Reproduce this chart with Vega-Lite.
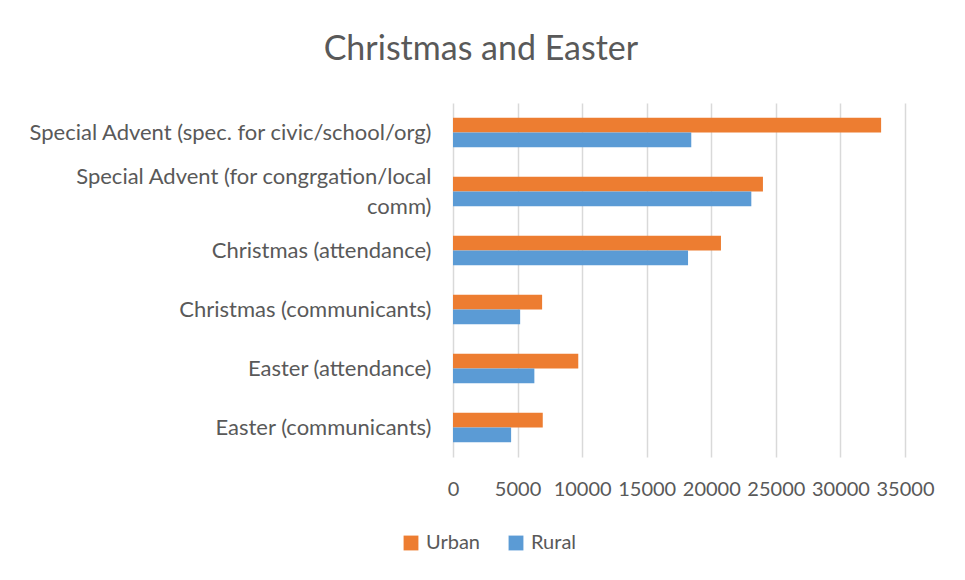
{
  "$schema": "https://vega.github.io/schema/vega-lite/v6.json",
  "width": 452,
  "height": 354,
  "padding": {"left": 27, "top": 33, "right": 40, "bottom": 10},
  "background": "white",
  "title": {
    "text": "Christmas and Easter",
    "frame": "bounds",
    "anchor": "middle",
    "font": "Lato",
    "fontSize": 34,
    "fontWeight": "normal",
    "color": "#595959",
    "offset": 36
  },
  "data": {
    "values": [
      {"category": "Special Advent (spec. for civic/school/org)", "series": "Urban", "value": 33150},
      {"category": "Special Advent (spec. for civic/school/org)", "series": "Rural", "value": 18450},
      {"category": "Special Advent (for congrgation/local comm)", "series": "Urban", "value": 24000},
      {"category": "Special Advent (for congrgation/local comm)", "series": "Rural", "value": 23100},
      {"category": "Christmas (attendance)", "series": "Urban", "value": 20750},
      {"category": "Christmas (attendance)", "series": "Rural", "value": 18200},
      {"category": "Christmas (communicants)", "series": "Urban", "value": 6900},
      {"category": "Christmas (communicants)", "series": "Rural", "value": 5200},
      {"category": "Easter (attendance)", "series": "Urban", "value": 9700},
      {"category": "Easter (attendance)", "series": "Rural", "value": 6300},
      {"category": "Easter (communicants)", "series": "Urban", "value": 6950},
      {"category": "Easter (communicants)", "series": "Rural", "value": 4500}
    ]
  },
  "mark": {"type": "bar"},
  "encoding": {
    "y": {
      "field": "category",
      "type": "nominal",
      "sort": null,
      "scale": {"paddingInner": 0.5, "paddingOuter": 0.25},
      "axis": {
        "title": null,
        "ticks": false,
        "domain": false,
        "labelFont": "Lato",
        "labelFontSize": 22,
        "labelColor": "#595959",
        "labelPadding": 22,
        "labelLimit": 500,
        "labelLineHeight": 30,
        "labelOffset": {
          "condition": {"test": "datum.value == 'Special Advent (for congrgation/local comm)'", "value": -15},
          "value": 0
        },
        "labelExpr": "datum.value == 'Special Advent (for congrgation/local comm)' ? ['Special Advent (for congrgation/local', 'comm)'] : datum.value"
      }
    },
    "yOffset": {"field": "series", "type": "nominal", "sort": ["Urban", "Rural"]},
    "x": {
      "field": "value",
      "type": "quantitative",
      "scale": {"domain": [0, 35000]},
      "axis": {
        "title": null,
        "values": [0, 5000, 10000, 15000, 20000, 25000, 30000, 35000],
        "format": "d",
        "ticks": false,
        "domain": false,
        "labelOverlap": false,
        "labelFlush": false,
        "labelFont": "Lato",
        "labelFontSize": 20,
        "labelColor": "#595959",
        "labelPadding": 22,
        "gridColor": "#d9d9d9",
        "gridWidth": 1.5
      }
    },
    "color": {
      "field": "series",
      "type": "nominal",
      "sort": ["Urban", "Rural"],
      "scale": {"domain": ["Urban", "Rural"], "range": ["#ED7D31", "#5B9BD5"]},
      "legend": {
        "title": null,
        "orient": "none",
        "direction": "horizontal",
        "legendX": -52,
        "legendY": 430,
        "symbolType": "square",
        "symbolSize": 220,
        "symbolStrokeWidth": 0,
        "labelFont": "Lato",
        "labelFontSize": 20,
        "labelColor": "#595959",
        "columnPadding": 26,
        "labelOffset": 5
      }
    }
  },
  "config": {
    "view": {"stroke": null}
  }
}
